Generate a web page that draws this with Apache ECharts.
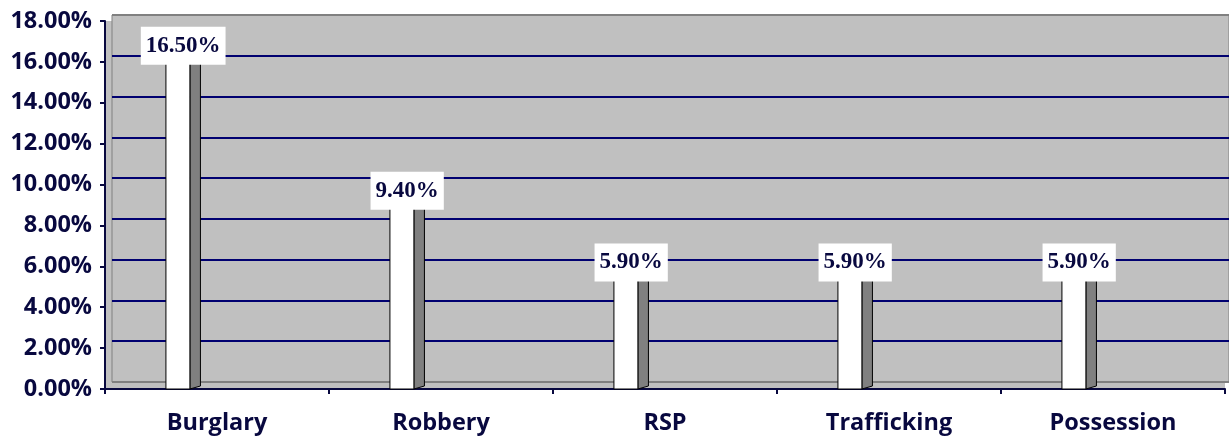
<!DOCTYPE html>
<html><head><meta charset="utf-8">
<script src="https://cdn.jsdelivr.net/npm/echarts@6/dist/echarts.min.js"></script>
<style>html,body{margin:0;padding:0;background:#fff}#c{width:1229px;height:437px}</style>
</head><body><div id="c"></div>
<script>
const categories = ['Burglary', 'Robbery', 'RSP', 'Trafficking', 'Possession'];
const values = [16.5, 9.4, 5.9, 5.9, 5.9];
const yMin = 0, yMax = 18, yStep = 2;

const navy = '#08083f';
const chart = echarts.init(document.getElementById('c'));

const gridColors = [];
for (let v = yMin; v <= yMax; v += yStep) gridColors.push((v === yMin || v === yMax) ? '#808080' : '#000070');

chart.setOption({
  animation: false,
  grid: [
    { left: 105, right: 4, top: 21, bottom: 48, show: true, backgroundColor: '#c0c0c0', borderWidth: 0 },
    { left: 112, right: 0, top: 15, bottom: 55, show: true, backgroundColor: '#c0c0c0', borderColor: '#808080', borderWidth: 1 }
  ],
  xAxis: [
    { gridIndex: 0, type: 'category', data: categories,
      axisLine: { lineStyle: { color: navy, width: 2 } },
      axisTick: { show: true, length: 5, lineStyle: { color: navy, width: 2 } },
      axisLabel: { color: navy, fontFamily: 'Open Sans', fontWeight: 'bold', fontSize: 23.5, margin: 22 } },
    { gridIndex: 1, type: 'category', data: categories, show: false }
  ],
  yAxis: [
    { gridIndex: 0, type: 'value', min: yMin, max: yMax, interval: yStep,
      axisLine: { show: true, lineStyle: { color: navy, width: 2 } },
      axisTick: { show: true, length: 5, lineStyle: { color: navy, width: 2 } },
      splitLine: { show: false },
      axisLabel: { color: navy, fontFamily: 'Open Sans', fontWeight: 'bold', fontSize: 23.5, margin: 13,
        formatter: v => v.toFixed(2) + '%' } },
    { gridIndex: 1, type: 'value', min: yMin, max: yMax, interval: yStep,
      axisLine: { show: false }, axisTick: { show: false }, axisLabel: { show: false },
      splitLine: { show: true, lineStyle: { color: gridColors, width: 2 } } }
  ],
  series: [{
    type: 'custom', xAxisIndex: 0, yAxisIndex: 0,
    data: values.map((v, i) => [i, v]),
    renderItem: function (params, api) {
      const top = api.coord([api.value(0), api.value(1)]);
      const base = api.coord([api.value(0), 0]);
      const bw = api.size([1, 0])[0];
      const fl = top[0] - bw * 0.228;
      const fw = bw * 0.107;
      const fr = fl + fw;
      const sd = bw * 0.047;
      const dy = 3;
      const t = top[1], b = base[1];
      return { type: 'group', children: [
        { type: 'polygon', shape: { points: [[fl, t], [fl + sd, t - dy], [fr + sd, t - dy], [fr, t]] },
          style: { fill: '#e0e0e0', stroke: '#000', lineWidth: 1 } },
        { type: 'polygon', shape: { points: [[fr, t], [fr + sd, t - dy], [fr + sd, b - dy], [fr, b]] },
          style: { fill: '#808080', stroke: '#000', lineWidth: 1 } },
        { type: 'rect', shape: { x: fl, y: t, width: fw, height: b - t },
          style: { fill: '#ffffff', stroke: '#000', lineWidth: 1 } },
        { type: 'text', x: (fl + fr + sd) / 2, y: t - 6,
          style: { text: api.value(1).toFixed(2) + '%', fill: navy,
            font: 'bold 23px "Liberation Serif", "Times New Roman", serif',
            align: 'center', verticalAlign: 'middle',
            backgroundColor: '#ffffff', padding: [8, 5, 7, 5] } }
      ]};
    }
  }]
});
</script></body></html>
